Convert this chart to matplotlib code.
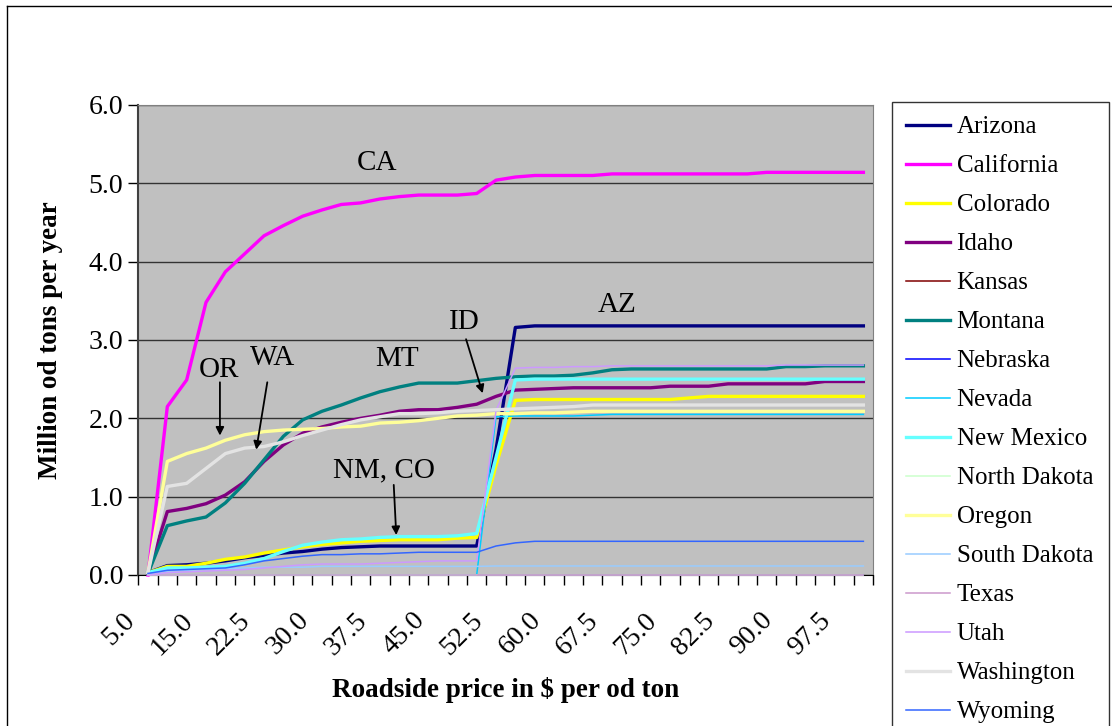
import matplotlib
matplotlib.use('Agg')
import matplotlib.pyplot as plt
from matplotlib.lines import Line2D
from matplotlib.transforms import ScaledTranslation

plt.rcParams['font.family'] = ['Liberation Serif', 'DejaVu Serif']

# Roadside price categories ($ per od ton)
prices = [5.0, 10.0, 12.5, 15.0, 17.5, 20.0, 22.5, 25.0, 27.5, 30.0,
          32.5, 35.0, 37.5, 40.0, 42.5, 45.0, 47.5, 50.0, 52.5, 55.0,
          57.5, 60.0, 62.5, 65.0, 67.5, 70.0, 72.5, 75.0, 77.5, 80.0,
          82.5, 85.0, 87.5, 90.0, 92.5, 95.0, 97.5, 100.0]

# Million od tons per year, by state
arizona = [0.03, 0.12, 0.13, 0.15, 0.18, 0.22, 0.25, 0.28, 0.30, 0.33,
           0.35, 0.36, 0.37, 0.37, 0.37, 0.37, 0.37, 0.37, 1.60, 3.16,
           3.18, 3.18, 3.18, 3.18, 3.18, 3.18, 3.18, 3.18, 3.18, 3.18,
           3.18, 3.18, 3.18, 3.18, 3.18, 3.18, 3.18, 3.18]
california = [0.00, 2.15, 2.49, 3.48, 3.87, 4.10, 4.33, 4.46, 4.58, 4.66,
              4.73, 4.75, 4.80, 4.83, 4.85, 4.85, 4.85, 4.87, 5.04, 5.08,
              5.10, 5.10, 5.10, 5.10, 5.12, 5.12, 5.12, 5.12, 5.12, 5.12,
              5.12, 5.12, 5.14, 5.14, 5.14, 5.14, 5.14, 5.14]
colorado = [0.03, 0.11, 0.11, 0.15, 0.20, 0.23, 0.28, 0.32, 0.36, 0.39,
            0.41, 0.43, 0.44, 0.45, 0.45, 0.45, 0.47, 0.48, 1.40, 2.23,
            2.24, 2.24, 2.24, 2.24, 2.24, 2.24, 2.24, 2.24, 2.26, 2.28,
            2.28, 2.28, 2.28, 2.28, 2.28, 2.28, 2.28, 2.28]
idaho = [0.02, 0.81, 0.85, 0.91, 1.02, 1.19, 1.45, 1.66, 1.81, 1.89,
         1.95, 2.00, 2.04, 2.09, 2.11, 2.11, 2.14, 2.18, 2.28, 2.36,
         2.37, 2.38, 2.39, 2.39, 2.39, 2.39, 2.39, 2.41, 2.41, 2.41,
         2.44, 2.44, 2.44, 2.44, 2.44, 2.47, 2.47, 2.47]
kansas = [0.0] * 38
montana = [0.02, 0.63, 0.69, 0.74, 0.92, 1.17, 1.47, 1.77, 1.98, 2.09,
           2.17, 2.26, 2.34, 2.40, 2.45, 2.45, 2.45, 2.48, 2.51, 2.53,
           2.54, 2.54, 2.55, 2.58, 2.62, 2.63, 2.63, 2.63, 2.63, 2.63,
           2.63, 2.63, 2.63, 2.66, 2.66, 2.67, 2.67, 2.67]
nebraska = [0.0] * 38
nevada = [0.0, 0.0, 0.0, 0.0, 0.0, 0.0, 0.0, 0.0, 0.0, 0.0,
          0.0, 0.0, 0.0, 0.0, 0.0, 0.0, 0.0, 0.0, 2.02, 2.03,
          2.03, 2.03, 2.03, 2.04, 2.05, 2.05, 2.05, 2.05, 2.05, 2.05,
          2.05, 2.05, 2.05, 2.05, 2.05, 2.05, 2.05, 2.05]
new_mexico = [0.03, 0.09, 0.09, 0.10, 0.11, 0.15, 0.21, 0.30, 0.38, 0.42,
              0.45, 0.46, 0.48, 0.49, 0.49, 0.49, 0.50, 0.53, 1.50, 2.49,
              2.50, 2.50, 2.50, 2.50, 2.50, 2.50, 2.50, 2.50, 2.50, 2.50,
              2.50, 2.50, 2.50, 2.50, 2.50, 2.50, 2.50, 2.50]
north_dakota = [0.0] * 38
oregon = [0.03, 1.45, 1.55, 1.62, 1.72, 1.79, 1.83, 1.85, 1.86, 1.87,
          1.89, 1.90, 1.94, 1.95, 1.97, 2.00, 2.03, 2.04, 2.06, 2.06,
          2.07, 2.07, 2.08, 2.09, 2.09, 2.09, 2.09, 2.09, 2.09, 2.09,
          2.09, 2.09, 2.09, 2.09, 2.09, 2.09, 2.09, 2.09]
south_dakota = [0.02, 0.05, 0.06, 0.07, 0.08, 0.09, 0.10, 0.10, 0.10, 0.11,
                0.11, 0.11, 0.11, 0.11, 0.11, 0.11, 0.11, 0.11, 0.115, 0.115,
                0.115, 0.115, 0.115, 0.115, 0.115, 0.115, 0.115, 0.115, 0.115, 0.115,
                0.115, 0.115, 0.115, 0.115, 0.115, 0.115, 0.115, 0.115]
texas = [0.0] * 38
utah = [0.00, 0.03, 0.04, 0.05, 0.06, 0.07, 0.09, 0.11, 0.13, 0.14,
        0.14, 0.14, 0.15, 0.16, 0.17, 0.18, 0.18, 0.18, 2.10, 2.64,
        2.65, 2.65, 2.66, 2.66, 2.67, 2.67, 2.67, 2.67, 2.67, 2.67,
        2.67, 2.67, 2.67, 2.68, 2.68, 2.68, 2.68, 2.68]
washington = [0.03, 1.13, 1.17, 1.36, 1.55, 1.62, 1.64, 1.70, 1.78, 1.85,
              1.92, 1.98, 2.02, 2.06, 2.06, 2.07, 2.09, 2.10, 2.11, 2.12,
              2.13, 2.14, 2.15, 2.17, 2.17, 2.17, 2.17, 2.17, 2.17, 2.17,
              2.17, 2.17, 2.17, 2.17, 2.17, 2.17, 2.17, 2.17]
wyoming = [0.02, 0.06, 0.07, 0.08, 0.09, 0.13, 0.18, 0.21, 0.24, 0.26,
           0.26, 0.27, 0.27, 0.28, 0.29, 0.29, 0.29, 0.29, 0.37, 0.41,
           0.43, 0.43, 0.43, 0.43, 0.43, 0.43, 0.43, 0.43, 0.43, 0.43,
           0.43, 0.43, 0.43, 0.43, 0.43, 0.43, 0.43, 0.43]

states = ['Arizona', 'California', 'Colorado', 'Idaho', 'Kansas', 'Montana',
          'Nebraska', 'Nevada', 'New Mexico', 'North Dakota', 'Oregon',
          'South Dakota', 'Texas', 'Utah', 'Washington', 'Wyoming']
series = [arizona, california, colorado, idaho, kansas, montana, nebraska,
          nevada, new_mexico, north_dakota, oregon, south_dakota, texas,
          utah, washington, wyoming]
colors = ['#000080', '#FF00FF', '#FFFF00', '#800080', '#800000', '#008080',
          '#0000FF', '#00CCFF', '#66FFFF', '#CCFFCC', '#FFFF99', '#99CCFF',
          '#CC99CC', '#CC99FF', '#E3E3E3', '#3366FF']
widths = [2.4, 2.4, 2.4, 2.4, 1.1, 2.4, 1.1, 1.1, 2.4, 1.1, 2.4, 1.1,
          1.1, 1.1, 2.4, 1.1]

fig = plt.figure(figsize=(11.12, 7.26), dpi=100)
ax = fig.add_axes([0.1244, 0.208, 0.6607, 0.6474])
ax.set_facecolor('#C0C0C0')

x = list(range(len(prices)))
for name, vals, c, lw in zip(states, series, colors, widths):
    # drawn above the spines so the zero series show on the axis line, as in Excel
    ax.plot(x, vals, color=c, lw=lw, label=name, zorder=3, clip_on=False)

ax.set_xlim(-0.5, len(prices) - 0.5)
ax.set_ylim(0, 6)
ax.set_yticks([0, 1, 2, 3, 4, 5, 6])
ax.set_yticklabels(['%.1f' % v for v in [0, 1, 2, 3, 4, 5, 6]], fontsize=20)
ax.yaxis.grid(True, color='#333333', lw=1)
ax.set_axisbelow(True)
ax.tick_params(axis='y', direction='out', length=7, width=1, pad=4)

# category labels every 3rd price, tick marks between categories
ax.set_xticks(x[::3])
ax.set_xticklabels(['%.1f' % p for p in prices[::3]], fontsize=20,
                   rotation=45, ha='right', va='center', rotation_mode='anchor')
ax.set_xticks([i - 0.5 for i in range(len(prices) + 1)], minor=True)
ax.tick_params(axis='x', which='major', length=0, pad=30)
ax.tick_params(axis='x', which='minor', direction='out', length=7, width=1)
for lab in ax.get_xticklabels():
    lab.set_transform(lab.get_transform() + ScaledTranslation(-0.17, 0, fig.dpi_scale_trans))

for side in ['top', 'right']:
    ax.spines[side].set_color('#808080')
ax.spines['left'].set_color('#404040')
ax.spines['left'].set_linewidth(1.5)
ax.spines['bottom'].set_color('#000000')

ax.set_xlabel('Roadside price in $ per od ton', fontsize=19.5, fontweight='bold', labelpad=12)
ax.set_ylabel('Million od tons per year', fontsize=19.5, fontweight='bold', labelpad=18)

# annotations
for txt, tx, ty in [('CA', 11.87, 5.26), ('AZ', 24.27, 3.45), ('ID', 16.37, 3.23),
                    ('OR', 3.65, 2.62), ('WA', 6.44, 2.77), ('MT', 12.9, 2.76),
                    ('NM, CO', 12.23, 1.33)]:
    ax.text(tx, ty, txt, fontsize=21, ha='center', va='center')
arrow = dict(arrowstyle='-|>', color='black', lw=1.3, mutation_scale=12, shrinkA=0, shrinkB=0)
ax.annotate('', xy=(3.72, 1.78), xytext=(3.72, 2.46), arrowprops=arrow)
ax.annotate('', xy=(5.60, 1.60), xytext=(6.17, 2.46), arrowprops=arrow)
ax.annotate('', xy=(17.31, 2.32), xytext=(16.45, 3.01), arrowprops=arrow)
ax.annotate('', xy=(12.84, 0.51), xytext=(12.71, 1.15), arrowprops=arrow)

leg = ax.legend(loc='upper left', bbox_to_anchor=(0.802, 0.0, 0.195, 0.8595),
                bbox_transform=fig.transFigure, mode='expand', fontsize=18,
                frameon=True, fancybox=False, edgecolor='black',
                handlelength=1.76, handletextpad=0.28, labelspacing=0.66,
                borderpad=0.55, borderaxespad=0)
leg.get_frame().set_linewidth(1)

# chart area border
fig.add_artist(Line2D([7 / 1112, 7 / 1112], [0, 1 - 6 / 726], color='black', lw=1,
                      transform=fig.transFigure))
fig.add_artist(Line2D([7 / 1112, 1], [1 - 6 / 726, 1 - 6 / 726], color='black', lw=1,
                      transform=fig.transFigure))

fig.savefig('out.png', dpi=100)
